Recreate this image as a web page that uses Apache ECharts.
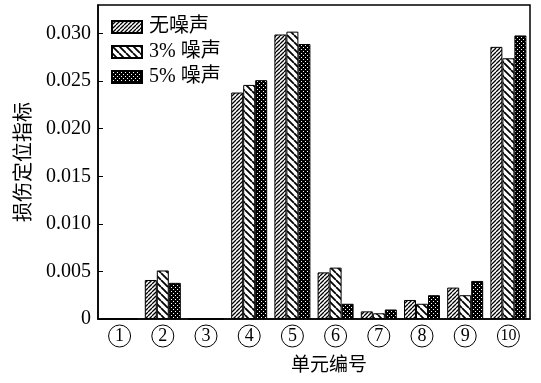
<!DOCTYPE html>
<html><head><meta charset="utf-8">
<script src="https://cdn.jsdelivr.net/npm/echarts@6/dist/echarts.min.js"></script>
<style>html,body{margin:0;padding:0;background:#fff}#c{width:541px;height:383px}</style>
</head><body><div id="c"></div>
<script>
const categories = ['1','2','3','4','5','6','7','8','9','10'];
const seriesNames = ['无噪声','3% 噪声','5% 噪声'];
const noNoise = [0, 0.0041, 0, 0.0238, 0.0299, 0.0049, 0.0008, 0.0020, 0.0033, 0.0286];
const noise3  = [0, 0.0051, 0, 0.0246, 0.0302, 0.0054, 0.0006, 0.0016, 0.0025, 0.0274];
const noise5  = [0, 0.0038, 0, 0.0251, 0.0289, 0.0016, 0.0010, 0.0025, 0.0040, 0.0298];
const yTicks = [0, 0.005, 0.010, 0.015, 0.020, 0.025, 0.030];

function hatch(s, lw, dir) {
  const c = document.createElement('canvas'); c.width = c.height = s;
  const g = c.getContext('2d');
  g.fillStyle = '#fff'; g.fillRect(0,0,s,s);
  g.strokeStyle = '#000'; g.lineWidth = lw; g.beginPath();
  for (const k of [-s, 0, s]) {
    if (dir > 0) { g.moveTo(k, s); g.lineTo(k + s, 0); }
    else { g.moveTo(k, 0); g.lineTo(k + s, s); }
  }
  g.stroke();
  return {image: c, repeat: 'repeat'};
}
function dots() {
  const c = document.createElement('canvas'); c.width = c.height = 4;
  const g = c.getContext('2d');
  g.fillStyle = '#000'; g.fillRect(0,0,4,4);
  g.fillStyle = '#fff'; g.fillRect(1,1,1,1); g.fillRect(3,3,1,1);
  return {image: c, repeat: 'repeat'};
}
const fills = [hatch(4, 1.3, 1), hatch(7, 1.8, -1), dots()];
const values = [noNoise, noise3, noise5];

const serif = "'Liberation Serif','Noto Sans CJK SC',serif";
const chart = echarts.init(document.getElementById('c'), null, {renderer: 'canvas'});
chart.setOption({
  animation: false,
  backgroundColor: '#fff',
  grid: {left: 98, right: 11, top: 5, bottom: 64, show: true, borderColor: '#000', borderWidth: 1.5, backgroundColor: 'transparent'},
  legend: {
    orient: 'vertical', left: 111, top: 17, padding: 0, itemGap: 5,
    itemWidth: 30, itemHeight: 12, icon: 'rect',
    textStyle: {fontSize: 20, color: '#000', fontFamily: serif, padding: [0,0,0,2]},
    data: seriesNames
  },
  xAxis: {
    type: 'category', data: categories,
    axisLine: {lineStyle: {color: '#000', width: 1.5}},
    axisTick: {inside: true, alignWithLabel: true, length: 5, lineStyle: {color: '#000'}},
    axisLabel: {
      margin: 6, interval: 0,
      formatter: v => (v.length > 1 ? '{d|' : '{c|') + v + '}',
      rich: {
        c: {width: 22, height: 22, lineHeight: 22, align: 'center', borderColor: '#000', borderWidth: 1, borderRadius: 12, fontSize: 18, fontFamily: serif, color: '#000'},
        d: {width: 22, height: 22, lineHeight: 22, align: 'center', borderColor: '#000', borderWidth: 1, borderRadius: 12, fontSize: 16, fontFamily: serif, color: '#000'}
      }
    },
    name: '单元编号', nameLocation: 'middle', nameGap: 38,
    nameTextStyle: {fontSize: 19, color: '#000', fontFamily: serif, padding: [0,0,0,30]}
  },
  yAxis: {
    type: 'value', min: 0, max: 0.033, interval: 0.005,
    splitLine: {show: false},
    axisLine: {show: true, lineStyle: {color: '#000', width: 1.5}},
    axisTick: {show: true, inside: true, length: 5, lineStyle: {color: '#000'}},
    axisLabel: {
      margin: 7, showMaxLabel: false, fontSize: 20, color: '#000', fontFamily: serif,
      formatter: v => { const t = yTicks.find(x => Math.abs(x - v) < 1e-9); return t === undefined ? '' : (t === 0 ? '0' : t.toFixed(3)); }
    },
    name: '损伤定位指标', nameLocation: 'middle', nameGap: 60,
    nameTextStyle: {fontSize: 20, color: '#000', fontFamily: serif}
  },
  series: seriesNames.map((n, i) => ({
    name: n, type: 'bar', data: values[i],
    barWidth: 12, barGap: '0%',
    itemStyle: {color: fills[i], borderColor: '#000', borderWidth: 1}
  }))
});
</script></body></html>
